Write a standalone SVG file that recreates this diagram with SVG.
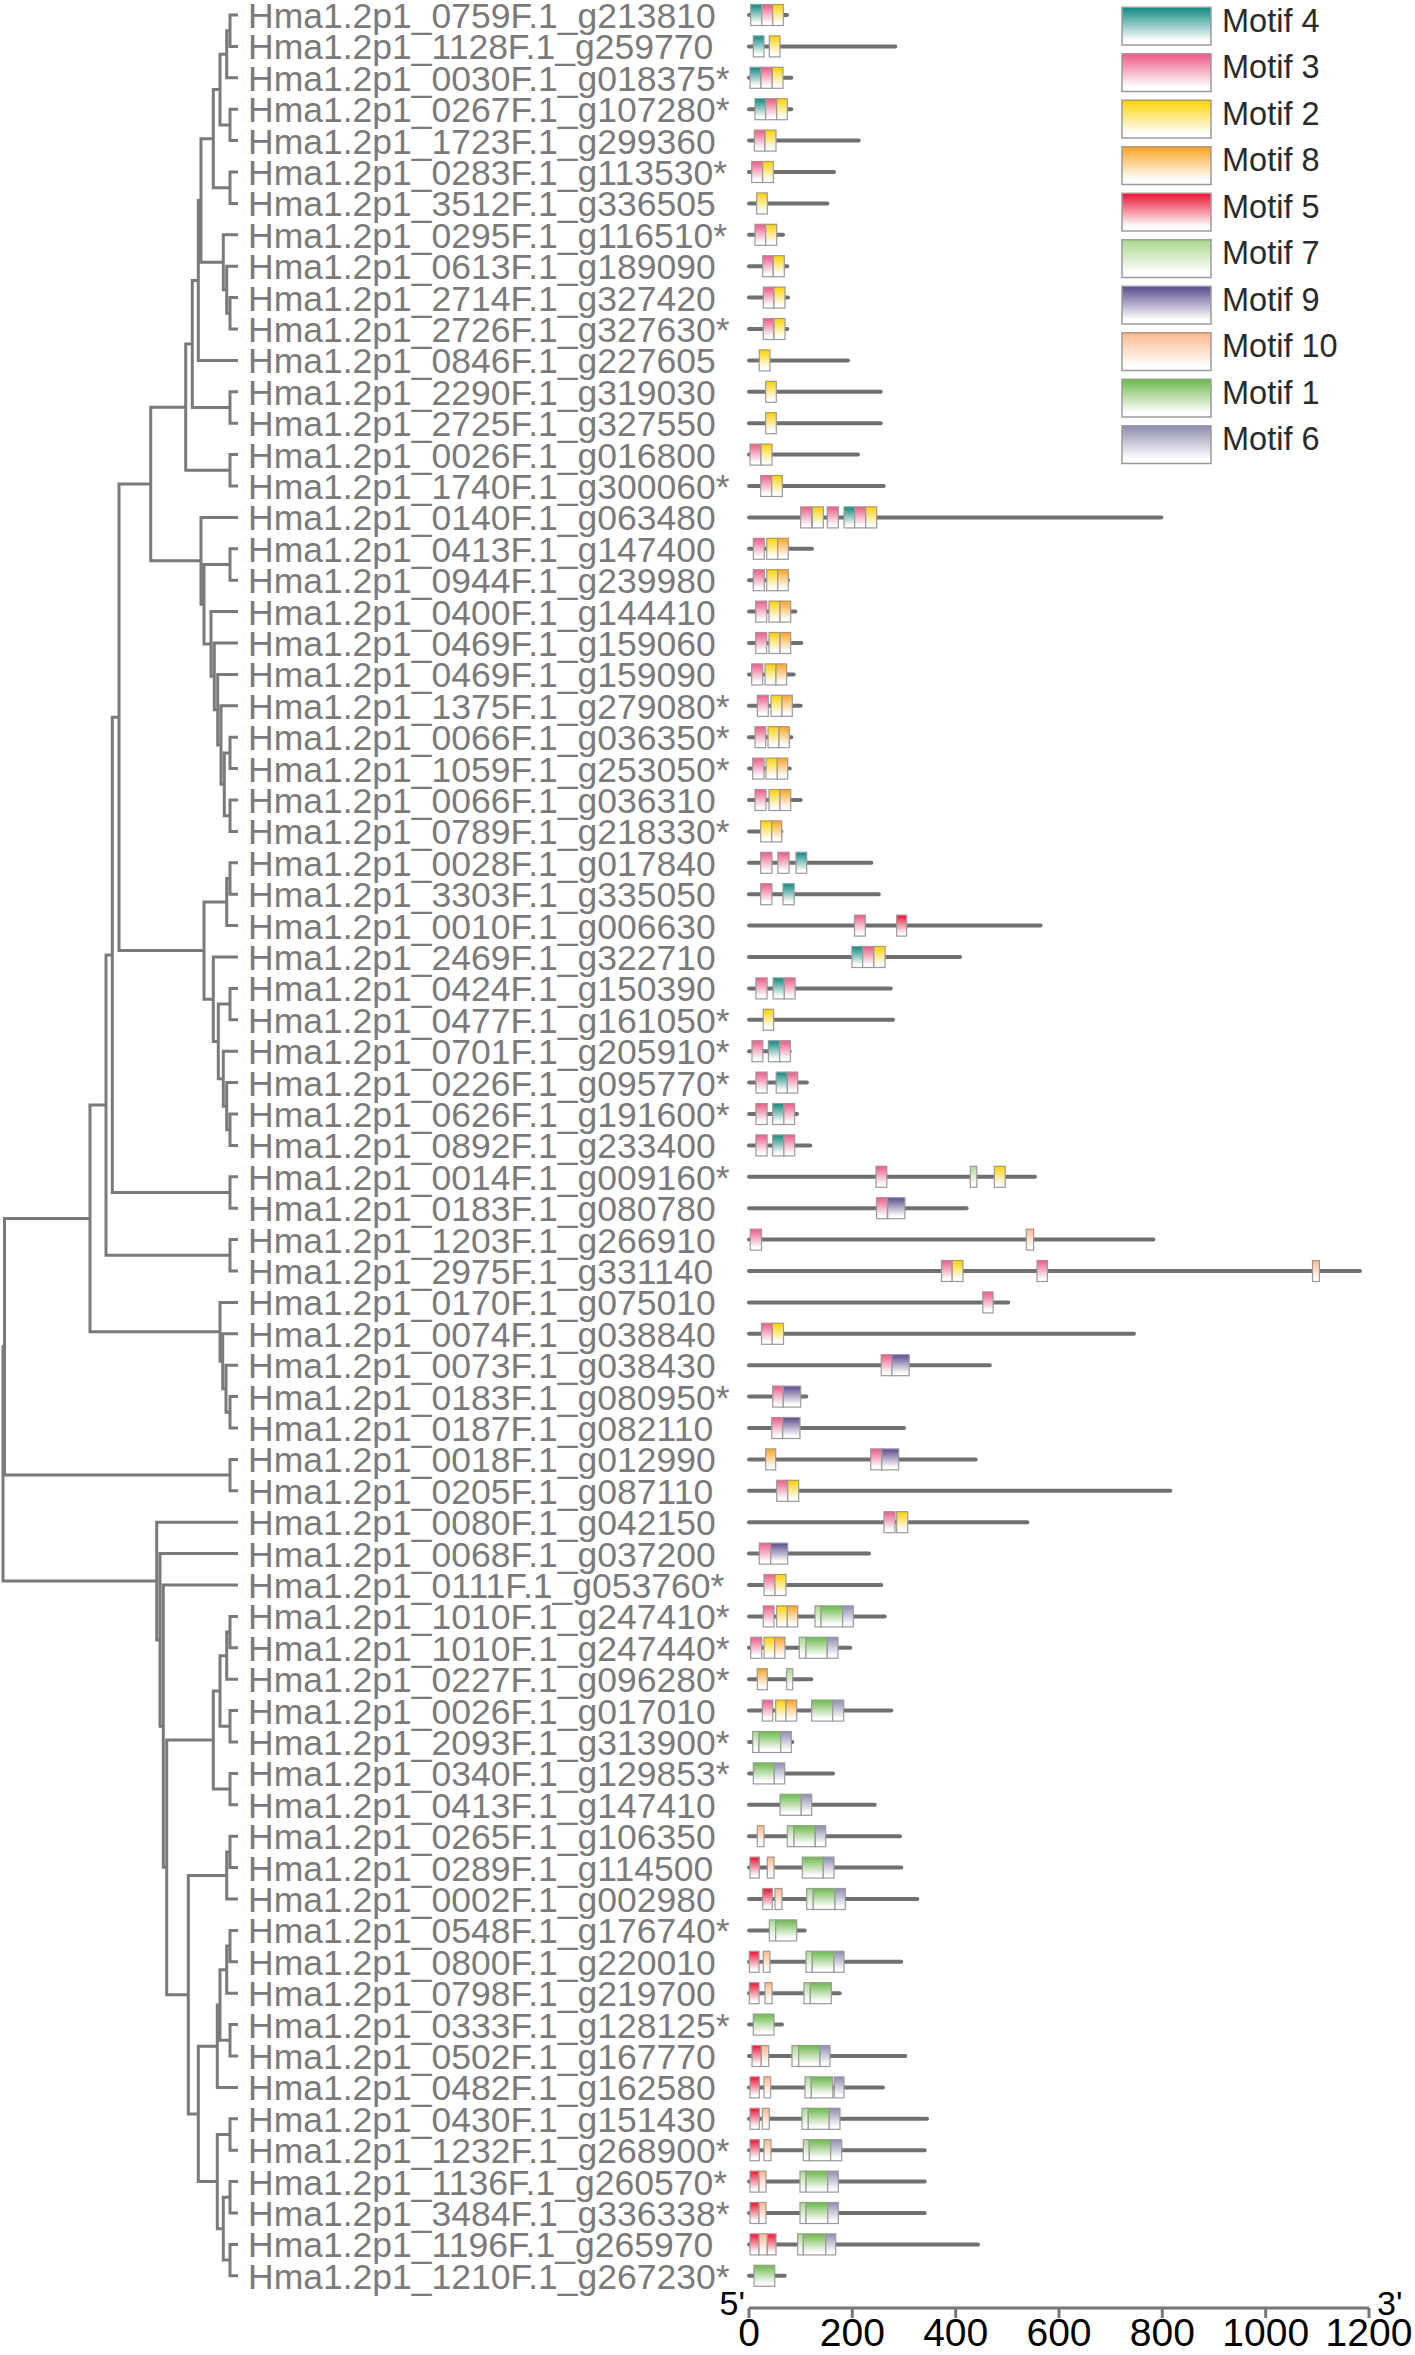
<svg xmlns="http://www.w3.org/2000/svg" width="1415" height="2355" viewBox="0 0 1415 2355">
<style>
.t{font-family:"Liberation Sans",Arial,sans-serif;font-size:35.5px;fill:#7a7a7a}
.tr{fill:none;stroke:#7a7a7a;stroke-width:3}
.ln{fill:none;stroke:#707070;stroke-width:4;stroke-linecap:round}
.gene rect{stroke:#9a9a9a;stroke-width:1.2}
.lgb{stroke:#9a9a9a;stroke-width:1.5}
.lg{font-family:"Liberation Sans",Arial,sans-serif;font-size:32.5px;fill:#2a2a2a}
.ax{fill:none;stroke:#777;stroke-width:3}
.an{font-family:"Liberation Sans",Arial,sans-serif;font-size:39px;fill:#000;text-anchor:middle}
.pr{font-family:"Liberation Sans",Arial,sans-serif;font-size:34px;fill:#000}
.m1{fill:url(#g1)}.m2{fill:url(#g2)}.m3{fill:url(#g3)}.m4{fill:url(#g4)}.m5{fill:url(#g5)}
.m6{fill:url(#g6)}.m7{fill:url(#g7)}.m8{fill:url(#g8)}.m9{fill:url(#g9)}.m10{fill:url(#g10)}
</style>
<defs>
<linearGradient id="g4" x1="0" y1="0" x2="0" y2="1"><stop offset="0" stop-color="#0d8a7e"/><stop offset="0.88" stop-color="#fff"/></linearGradient>
<linearGradient id="g3" x1="0" y1="0" x2="0" y2="1"><stop offset="0" stop-color="#ee5a85"/><stop offset="0.88" stop-color="#fff"/></linearGradient>
<linearGradient id="g2" x1="0" y1="0" x2="0" y2="1"><stop offset="0" stop-color="#ffd200"/><stop offset="0.88" stop-color="#fff"/></linearGradient>
<linearGradient id="g8" x1="0" y1="0" x2="0" y2="1"><stop offset="0" stop-color="#ffa424"/><stop offset="0.88" stop-color="#fff"/></linearGradient>
<linearGradient id="g5" x1="0" y1="0" x2="0" y2="1"><stop offset="0" stop-color="#ee1133"/><stop offset="0.88" stop-color="#fff"/></linearGradient>
<linearGradient id="g7" x1="0" y1="0" x2="0" y2="1"><stop offset="0" stop-color="#a9d98c"/><stop offset="0.88" stop-color="#fff"/></linearGradient>
<linearGradient id="g9" x1="0" y1="0" x2="0" y2="1"><stop offset="0" stop-color="#5c4a8c"/><stop offset="0.88" stop-color="#fff"/></linearGradient>
<linearGradient id="g10" x1="0" y1="0" x2="0" y2="1"><stop offset="0" stop-color="#ffb88a"/><stop offset="0.88" stop-color="#fff"/></linearGradient>
<linearGradient id="g1" x1="0" y1="0" x2="0" y2="1"><stop offset="0" stop-color="#6db94b"/><stop offset="0.88" stop-color="#fff"/></linearGradient>
<linearGradient id="g6" x1="0" y1="0" x2="0" y2="1"><stop offset="0" stop-color="#8e8db0"/><stop offset="0.88" stop-color="#fff"/></linearGradient>
</defs>
<rect width="1415" height="2355" fill="#fff"/>

<g id="connectors" class="tr">
<path d="M238 15H230V46.4H238M230 30.7H226.7V77.8H238M238 109.2H230V140.6H238M226.7 54.25H220V124.9H230M238 172H230V203.4H238M220 89.58H213.3V187.7H230M238 297.6H230V329H238M238 266.2H226.7V313.3H230M238 234.8H223.3V289.75H226.7M213.3 138.64H201V262.28H223.3M201 200.46H198.3V360.4H238M238 391.8H230V423.2H238M198.3 280.43H192.3V407.5H230M238 454.6H230V486H238M192.3 343.97H185.7V470.3H230"/>
<path d="M238 800H230V831.4H238M238 737.2H230V768.6H238M230 752.9H224.3V815.7H230M238 705.8H221V784.3H224.3M238 674.4H217.7V745.05H221M238 643H214.3V709.73H217.7M238 611.6H211V676.36H214.3M238 548.8H230V580.2H238M230 564.5H204V643.98H211M238 517.4H201V604.24H204M185.7 407.13H150.7V560.82H201"/>
<path d="M238 862.8H230V894.2H238M230 878.5H226.7V925.6H238M238 1114H230V1145.4H238M238 1082.6H226.7V1129.7H230M238 1051.2H223.3V1106.15H226.7M238 988.4H230V1019.8H238M230 1004.1H218.3V1078.68H223.3M238 957H213.3V1041.39H218.3M226.7 902.05H204V999.2H213.3M150.7 483.98H119V950.62H204M238 1176.8H230V1208.2H238M119 717.3H112.3V1192.5H230M238 1239.6H230V1271H238M112.3 954.9H106V1255.3H230"/>
<path d="M238 1396.6H230V1428H238M238 1365.2H226V1412.3H230M238 1333.8H222.7V1388.75H226M238 1302.4H220V1361.28H222.7M106 1105.1H90V1331.84H220M238 1459.4H230V1490.8H238M90 1218.47H4.5V1475.1H230"/>
<path d="M238 1616.4H230V1647.8H238M230 1632.1H226.7V1679.2H238M238 1710.6H230V1742H238M226.7 1655.65H220V1726.3H230M238 1773.4H230V1804.8H238M220 1690.98H213.3V1789.1H230M238 1836.2H230V1867.6H238M230 1851.9H226.7V1899H238M238 1930.4H230V1961.8H238M230 1946.1H226.7V1993.2H238M238 2024.6H230V2056H238M226.7 1969.65H220V2040.3H230M220 2004.98H217.3V2087.4H238M238 2118.8H230V2150.2H238M238 2181.6H230V2213H238M238 2244.4H230V2275.8H238M230 2197.3H223.3V2260.1H230M230 2134.5H217.3V2228.7H223.3M217.3 2046.19H198.3V2181.6H217.3M226.7 1875.45H188.3V2113.9H198.3M213.3 1740.04H166.7V1994.68H188.3M238 1585H163.3V1867.36H166.7M238 1553.6H160V1726.18H163.3M238 1522.2H156.7V1639.89H160M4.5 1346.8H3V1581.05H156.7"/>
</g>

<g id="r1" class="gene" transform="translate(0,15)"><text class="t" x="248" y="13">Hma1.2p1_0759F.1_g213810</text><path class="ln" d="M749 0H787"/><rect class="m4" x="750.7" y="-10.5" width="11" height="21"/><rect class="m3" x="761.7" y="-10.5" width="11" height="21"/><rect class="m2" x="772.7" y="-10.5" width="10.6" height="21"/></g>
<g id="r2" class="gene" transform="translate(0,46.4)"><text class="t" x="248" y="13">Hma1.2p1_1128F.1_g259770</text><path class="ln" d="M749 0H895.3"/><rect class="m4" x="753.3" y="-10.5" width="10.7" height="21"/><rect class="m2" x="769.3" y="-10.5" width="10.7" height="21"/></g>
<g id="r3" class="gene" transform="translate(0,77.8)"><text class="t" x="248" y="13">Hma1.2p1_0030F.1_g018375*</text><path class="ln" d="M749 0H791.3"/><rect class="m4" x="750" y="-10.5" width="11" height="21"/><rect class="m3" x="761" y="-10.5" width="11.3" height="21"/><rect class="m2" x="772.3" y="-10.5" width="10.7" height="21"/></g>
<g id="r4" class="gene" transform="translate(0,109.2)"><text class="t" x="248" y="13">Hma1.2p1_0267F.1_g107280*</text><path class="ln" d="M749 0H791.3"/><rect class="m4" x="755" y="-10.5" width="10.7" height="21"/><rect class="m3" x="765.7" y="-10.5" width="11" height="21"/><rect class="m2" x="776.7" y="-10.5" width="10.6" height="21"/></g>
<g id="r5" class="gene" transform="translate(0,140.6)"><text class="t" x="248" y="13">Hma1.2p1_1723F.1_g299360</text><path class="ln" d="M749 0H858.7"/><rect class="m3" x="754.3" y="-10.5" width="10.7" height="21"/><rect class="m2" x="765" y="-10.5" width="11" height="21"/></g>
<g id="r6" class="gene" transform="translate(0,172)"><text class="t" x="248" y="13">Hma1.2p1_0283F.1_g113530*</text><path class="ln" d="M749 0H834"/><rect class="m3" x="751.7" y="-10.5" width="11" height="21"/><rect class="m2" x="762.7" y="-10.5" width="10.6" height="21"/></g>
<g id="r7" class="gene" transform="translate(0,203.4)"><text class="t" x="248" y="13">Hma1.2p1_3512F.1_g336505</text><path class="ln" d="M749 0H827.3"/><rect class="m2" x="756.7" y="-10.5" width="10.6" height="21"/></g>
<g id="r8" class="gene" transform="translate(0,234.8)"><text class="t" x="248" y="13">Hma1.2p1_0295F.1_g116510*</text><path class="ln" d="M749 0H783"/><rect class="m3" x="755" y="-10.5" width="10.7" height="21"/><rect class="m2" x="765.7" y="-10.5" width="11" height="21"/></g>
<g id="r9" class="gene" transform="translate(0,266.2)"><text class="t" x="248" y="13">Hma1.2p1_0613F.1_g189090</text><path class="ln" d="M749 0H787.3"/><rect class="m3" x="762.7" y="-10.5" width="10.6" height="21"/><rect class="m2" x="773.3" y="-10.5" width="11" height="21"/></g>
<g id="r10" class="gene" transform="translate(0,297.6)"><text class="t" x="248" y="13">Hma1.2p1_2714F.1_g327420</text><path class="ln" d="M749 0H788"/><rect class="m3" x="763.3" y="-10.5" width="10.7" height="21"/><rect class="m2" x="774" y="-10.5" width="11" height="21"/></g>
<g id="r11" class="gene" transform="translate(0,329)"><text class="t" x="248" y="13">Hma1.2p1_2726F.1_g327630*</text><path class="ln" d="M749 0H787.3"/><rect class="m3" x="763.3" y="-10.5" width="10.7" height="21"/><rect class="m2" x="774" y="-10.5" width="11" height="21"/></g>
<g id="r12" class="gene" transform="translate(0,360.4)"><text class="t" x="248" y="13">Hma1.2p1_0846F.1_g227605</text><path class="ln" d="M749 0H848"/><rect class="m2" x="759.3" y="-10.5" width="10.7" height="21"/></g>
<g id="r13" class="gene" transform="translate(0,391.8)"><text class="t" x="248" y="13">Hma1.2p1_2290F.1_g319030</text><path class="ln" d="M749 0H880.7"/><rect class="m2" x="765.7" y="-10.5" width="10.6" height="21"/></g>
<g id="r14" class="gene" transform="translate(0,423.2)"><text class="t" x="248" y="13">Hma1.2p1_2725F.1_g327550</text><path class="ln" d="M749 0H880.7"/><rect class="m2" x="765.7" y="-10.5" width="10.6" height="21"/></g>
<g id="r15" class="gene" transform="translate(0,454.6)"><text class="t" x="248" y="13">Hma1.2p1_0026F.1_g016800</text><path class="ln" d="M749 0H858"/><rect class="m3" x="750" y="-10.5" width="11" height="21"/><rect class="m2" x="761" y="-10.5" width="11" height="21"/></g>
<g id="r16" class="gene" transform="translate(0,486)"><text class="t" x="248" y="13">Hma1.2p1_1740F.1_g300060*</text><path class="ln" d="M749 0H883.7"/><rect class="m3" x="760.7" y="-10.5" width="11" height="21"/><rect class="m2" x="771.7" y="-10.5" width="10.6" height="21"/></g>
<g id="r17" class="gene" transform="translate(0,517.4)"><text class="t" x="248" y="13">Hma1.2p1_0140F.1_g063480</text><path class="ln" d="M749 0H1161.3"/><rect class="m3" x="800.7" y="-10.5" width="11" height="21"/><rect class="m2" x="812.3" y="-10.5" width="11" height="21"/><rect class="m3" x="827.3" y="-10.5" width="11" height="21"/><rect class="m4" x="844" y="-10.5" width="10.7" height="21"/><rect class="m3" x="854.7" y="-10.5" width="11" height="21"/><rect class="m2" x="865.7" y="-10.5" width="11" height="21"/></g>
<g id="r18" class="gene" transform="translate(0,548.8)"><text class="t" x="248" y="13">Hma1.2p1_0413F.1_g147400</text><path class="ln" d="M749 0H812"/><rect class="m3" x="753.3" y="-10.5" width="11" height="21"/><rect class="m2" x="766.7" y="-10.5" width="11" height="21"/><rect class="m8" x="777.7" y="-10.5" width="10.6" height="21"/></g>
<g id="r19" class="gene" transform="translate(0,580.2)"><text class="t" x="248" y="13">Hma1.2p1_0944F.1_g239980</text><path class="ln" d="M749 0H788"/><rect class="m3" x="753.3" y="-10.5" width="11" height="21"/><rect class="m2" x="766.7" y="-10.5" width="11" height="21"/><rect class="m8" x="777.7" y="-10.5" width="10.6" height="21"/></g>
<g id="r20" class="gene" transform="translate(0,611.6)"><text class="t" x="248" y="13">Hma1.2p1_0400F.1_g144410</text><path class="ln" d="M749 0H795.3"/><rect class="m3" x="755.7" y="-10.5" width="11" height="21"/><rect class="m2" x="769" y="-10.5" width="11" height="21"/><rect class="m8" x="780" y="-10.5" width="10.7" height="21"/></g>
<g id="r21" class="gene" transform="translate(0,643)"><text class="t" x="248" y="13">Hma1.2p1_0469F.1_g159060</text><path class="ln" d="M749 0H801.3"/><rect class="m3" x="755.7" y="-10.5" width="11" height="21"/><rect class="m2" x="769" y="-10.5" width="11" height="21"/><rect class="m8" x="780" y="-10.5" width="10.7" height="21"/></g>
<g id="r22" class="gene" transform="translate(0,674.4)"><text class="t" x="248" y="13">Hma1.2p1_0469F.1_g159090</text><path class="ln" d="M749 0H793.7"/><rect class="m3" x="751.7" y="-10.5" width="11" height="21"/><rect class="m2" x="765" y="-10.5" width="11" height="21"/><rect class="m8" x="776" y="-10.5" width="10.7" height="21"/></g>
<g id="r23" class="gene" transform="translate(0,705.8)"><text class="t" x="248" y="13">Hma1.2p1_1375F.1_g279080*</text><path class="ln" d="M749 0H800.7"/><rect class="m3" x="757.3" y="-10.5" width="11" height="21"/><rect class="m2" x="771" y="-10.5" width="11" height="21"/><rect class="m8" x="782" y="-10.5" width="10.3" height="21"/></g>
<g id="r24" class="gene" transform="translate(0,737.2)"><text class="t" x="248" y="13">Hma1.2p1_0066F.1_g036350*</text><path class="ln" d="M749 0H791.3"/><rect class="m3" x="755" y="-10.5" width="10.7" height="21"/><rect class="m2" x="768" y="-10.5" width="11" height="21"/><rect class="m8" x="779" y="-10.5" width="10.3" height="21"/></g>
<g id="r25" class="gene" transform="translate(0,768.6)"><text class="t" x="248" y="13">Hma1.2p1_1059F.1_g253050*</text><path class="ln" d="M749 0H789.7"/><rect class="m3" x="752.7" y="-10.5" width="11.3" height="21"/><rect class="m2" x="766" y="-10.5" width="11.3" height="21"/><rect class="m8" x="777.3" y="-10.5" width="10.4" height="21"/></g>
<g id="r26" class="gene" transform="translate(0,800)"><text class="t" x="248" y="13">Hma1.2p1_0066F.1_g036310</text><path class="ln" d="M749 0H800.7"/><rect class="m3" x="755" y="-10.5" width="11" height="21"/><rect class="m2" x="769" y="-10.5" width="11" height="21"/><rect class="m8" x="780" y="-10.5" width="10.7" height="21"/></g>
<g id="r27" class="gene" transform="translate(0,831.4)"><text class="t" x="248" y="13">Hma1.2p1_0789F.1_g218330*</text><path class="ln" d="M749 0H781.3"/><rect class="m2" x="760.7" y="-10.5" width="11" height="21"/><rect class="m8" x="771.7" y="-10.5" width="10" height="21"/></g>
<g id="r28" class="gene" transform="translate(0,862.8)"><text class="t" x="248" y="13">Hma1.2p1_0028F.1_g017840</text><path class="ln" d="M749 0H871.4"/><rect class="m3" x="760.7" y="-10.5" width="11.2" height="21"/><rect class="m3" x="777.9" y="-10.5" width="11.2" height="21"/><rect class="m4" x="796" y="-10.5" width="10.7" height="21"/></g>
<g id="r29" class="gene" transform="translate(0,894.2)"><text class="t" x="248" y="13">Hma1.2p1_3303F.1_g335050</text><path class="ln" d="M749 0H878.8"/><rect class="m3" x="760.7" y="-10.5" width="11.2" height="21"/><rect class="m4" x="783" y="-10.5" width="11.2" height="21"/></g>
<g id="r30" class="gene" transform="translate(0,925.6)"><text class="t" x="248" y="13">Hma1.2p1_0010F.1_g006630</text><path class="ln" d="M749 0H1040.6"/><rect class="m3" x="854.5" y="-10.5" width="10.8" height="21"/><rect class="m5" x="896.7" y="-10.5" width="9.9" height="21"/></g>
<g id="r31" class="gene" transform="translate(0,957)"><text class="t" x="248" y="13">Hma1.2p1_2469F.1_g322710</text><path class="ln" d="M749 0H960.1"/><rect class="m4" x="851.9" y="-10.5" width="10.8" height="21"/><rect class="m3" x="862.7" y="-10.5" width="11.2" height="21"/><rect class="m2" x="873.9" y="-10.5" width="11.2" height="21"/></g>
<g id="r32" class="gene" transform="translate(0,988.4)"><text class="t" x="248" y="13">Hma1.2p1_0424F.1_g150390</text><path class="ln" d="M749 0H890.8"/><rect class="m3" x="755.9" y="-10.5" width="11.2" height="21"/><rect class="m4" x="773.1" y="-10.5" width="11.2" height="21"/><rect class="m3" x="784.3" y="-10.5" width="10.8" height="21"/></g>
<g id="r33" class="gene" transform="translate(0,1019.8)"><text class="t" x="248" y="13">Hma1.2p1_0477F.1_g161050*</text><path class="ln" d="M749 0H893"/><rect class="m2" x="763.2" y="-10.5" width="10.4" height="21"/></g>
<g id="r34" class="gene" transform="translate(0,1051.2)"><text class="t" x="248" y="13">Hma1.2p1_0701F.1_g205910*</text><path class="ln" d="M749 0H789.7"/><rect class="m3" x="752" y="-10.5" width="10.8" height="21"/><rect class="m4" x="768.4" y="-10.5" width="11.2" height="21"/><rect class="m3" x="779.6" y="-10.5" width="10.8" height="21"/></g>
<g id="r35" class="gene" transform="translate(0,1082.6)"><text class="t" x="248" y="13">Hma1.2p1_0226F.1_g095770*</text><path class="ln" d="M749 0H806.9"/><rect class="m3" x="755.9" y="-10.5" width="11.2" height="21"/><rect class="m4" x="776.2" y="-10.5" width="11.2" height="21"/><rect class="m3" x="787.4" y="-10.5" width="10.3" height="21"/></g>
<g id="r36" class="gene" transform="translate(0,1114)"><text class="t" x="248" y="13">Hma1.2p1_0626F.1_g191600*</text><path class="ln" d="M749 0H797"/><rect class="m3" x="755.9" y="-10.5" width="11.2" height="21"/><rect class="m4" x="772.7" y="-10.5" width="11.2" height="21"/><rect class="m3" x="783.9" y="-10.5" width="10.8" height="21"/></g>
<g id="r37" class="gene" transform="translate(0,1145.4)"><text class="t" x="248" y="13">Hma1.2p1_0892F.1_g233400</text><path class="ln" d="M749 0H810.3"/><rect class="m3" x="755.9" y="-10.5" width="11.2" height="21"/><rect class="m4" x="772.7" y="-10.5" width="11.2" height="21"/><rect class="m3" x="783.9" y="-10.5" width="10.8" height="21"/></g>
<g id="r38" class="gene" transform="translate(0,1176.8)"><text class="t" x="248" y="13">Hma1.2p1_0014F.1_g009160*</text><path class="ln" d="M749 0H1035"/><rect class="m3" x="876" y="-10.5" width="10.8" height="21"/><rect class="m7" x="970.3" y="-10.5" width="6.5" height="21"/><rect class="m2" x="994.4" y="-10.5" width="10.8" height="21"/></g>
<g id="r39" class="gene" transform="translate(0,1208.2)"><text class="t" x="248" y="13">Hma1.2p1_0183F.1_g080780</text><path class="ln" d="M749 0H966.6"/><rect class="m3" x="876.5" y="-10.5" width="10.7" height="21"/><rect class="m9" x="887.7" y="-10.5" width="17.2" height="21"/></g>
<g id="r40" class="gene" transform="translate(0,1239.6)"><text class="t" x="248" y="13">Hma1.2p1_1203F.1_g266910</text><path class="ln" d="M749 0H1153.4"/><rect class="m3" x="750.3" y="-10.5" width="11.2" height="21"/><rect class="m10" x="1026.3" y="-10.5" width="7.3" height="21"/></g>
<g id="r41" class="gene" transform="translate(0,1271)"><text class="t" x="248" y="13">Hma1.2p1_2975F.1_g331140</text><path class="ln" d="M749 0H1360"/><rect class="m3" x="941.5" y="-10.5" width="10.7" height="21"/><rect class="m2" x="952.2" y="-10.5" width="10.8" height="21"/><rect class="m3" x="1037" y="-10.5" width="10.4" height="21"/><rect class="m10" x="1312.5" y="-10.5" width="6.9" height="21"/></g>
<g id="r42" class="gene" transform="translate(0,1302.4)"><text class="t" x="248" y="13">Hma1.2p1_0170F.1_g075010</text><path class="ln" d="M749 0H1008.3"/><rect class="m3" x="982.8" y="-10.5" width="10.3" height="21"/></g>
<g id="r43" class="gene" transform="translate(0,1333.8)"><text class="t" x="248" y="13">Hma1.2p1_0074F.1_g038840</text><path class="ln" d="M749 0H1134"/><rect class="m3" x="761.5" y="-10.5" width="10.8" height="21"/><rect class="m2" x="772.3" y="-10.5" width="11.2" height="21"/></g>
<g id="r44" class="gene" transform="translate(0,1365.2)"><text class="t" x="248" y="13">Hma1.2p1_0073F.1_g038430</text><path class="ln" d="M749 0H989.8"/><rect class="m3" x="881.2" y="-10.5" width="10.8" height="21"/><rect class="m9" x="892" y="-10.5" width="17.2" height="21"/></g>
<g id="r45" class="gene" transform="translate(0,1396.6)"><text class="t" x="248" y="13">Hma1.2p1_0183F.1_g080950*</text><path class="ln" d="M749 0H806.3"/><rect class="m3" x="772.7" y="-10.5" width="10.6" height="21"/><rect class="m9" x="783.3" y="-10.5" width="17.4" height="21"/></g>
<g id="r46" class="gene" transform="translate(0,1428)"><text class="t" x="248" y="13">Hma1.2p1_0187F.1_g082110</text><path class="ln" d="M749 0H904"/><rect class="m3" x="771.7" y="-10.5" width="11" height="21"/><rect class="m9" x="782.7" y="-10.5" width="17.3" height="21"/></g>
<g id="r47" class="gene" transform="translate(0,1459.4)"><text class="t" x="248" y="13">Hma1.2p1_0018F.1_g012990</text><path class="ln" d="M749 0H975.7"/><rect class="m8" x="765.7" y="-10.5" width="10" height="21"/><rect class="m3" x="870.7" y="-10.5" width="11" height="21"/><rect class="m9" x="881.7" y="-10.5" width="17" height="21"/></g>
<g id="r48" class="gene" transform="translate(0,1490.8)"><text class="t" x="248" y="13">Hma1.2p1_0205F.1_g087110</text><path class="ln" d="M749 0H1170.3"/><rect class="m3" x="776.7" y="-10.5" width="11" height="21"/><rect class="m2" x="787.7" y="-10.5" width="11" height="21"/></g>
<g id="r49" class="gene" transform="translate(0,1522.2)"><text class="t" x="248" y="13">Hma1.2p1_0080F.1_g042150</text><path class="ln" d="M749 0H1027.3"/><rect class="m3" x="884" y="-10.5" width="11" height="21"/><rect class="m2" x="896.7" y="-10.5" width="11" height="21"/></g>
<g id="r50" class="gene" transform="translate(0,1553.6)"><text class="t" x="248" y="13">Hma1.2p1_0068F.1_g037200</text><path class="ln" d="M749 0H869"/><rect class="m3" x="759.3" y="-10.5" width="11.4" height="21"/><rect class="m9" x="770.7" y="-10.5" width="17" height="21"/></g>
<g id="r51" class="gene" transform="translate(0,1585)"><text class="t" x="248" y="13">Hma1.2p1_0111F.1_g053760*</text><path class="ln" d="M749 0H881.3"/><rect class="m3" x="764" y="-10.5" width="11" height="21"/><rect class="m2" x="775" y="-10.5" width="11" height="21"/></g>
<g id="r52" class="gene" transform="translate(0,1616.4)"><text class="t" x="248" y="13">Hma1.2p1_1010F.1_g247410*</text><path class="ln" d="M749 0H884.7"/><rect class="m3" x="763.3" y="-10.5" width="10.7" height="21"/><rect class="m2" x="776.7" y="-10.5" width="10.6" height="21"/><rect class="m8" x="787.3" y="-10.5" width="10.4" height="21"/><rect class="m7" x="815" y="-10.5" width="6" height="21"/><rect class="m1" x="821" y="-10.5" width="21.7" height="21"/><rect class="m6" x="842.7" y="-10.5" width="10.6" height="21"/></g>
<g id="r53" class="gene" transform="translate(0,1647.8)"><text class="t" x="248" y="13">Hma1.2p1_1010F.1_g247440*</text><path class="ln" d="M749 0H850.3"/><rect class="m3" x="750.7" y="-10.5" width="11" height="21"/><rect class="m2" x="764" y="-10.5" width="10.7" height="21"/><rect class="m8" x="774.7" y="-10.5" width="10.3" height="21"/><rect class="m7" x="799.3" y="-10.5" width="6.7" height="21"/><rect class="m1" x="806" y="-10.5" width="21.3" height="21"/><rect class="m6" x="827.3" y="-10.5" width="10.7" height="21"/></g>
<g id="r54" class="gene" transform="translate(0,1679.2)"><text class="t" x="248" y="13">Hma1.2p1_0227F.1_g096280*</text><path class="ln" d="M749 0H811.3"/><rect class="m8" x="757.3" y="-10.5" width="10" height="21"/><rect class="m7" x="786.7" y="-10.5" width="6" height="21"/></g>
<g id="r55" class="gene" transform="translate(0,1710.6)"><text class="t" x="248" y="13">Hma1.2p1_0026F.1_g017010</text><path class="ln" d="M749 0H891.3"/><rect class="m3" x="762.3" y="-10.5" width="10.4" height="21"/><rect class="m2" x="775.7" y="-10.5" width="10.3" height="21"/><rect class="m8" x="786" y="-10.5" width="10.7" height="21"/><rect class="m1" x="811.7" y="-10.5" width="21" height="21"/><rect class="m6" x="832.7" y="-10.5" width="11" height="21"/></g>
<g id="r56" class="gene" transform="translate(0,1742)"><text class="t" x="248" y="13">Hma1.2p1_2093F.1_g313900*</text><path class="ln" d="M749 0H792.3"/><rect class="m7" x="752.7" y="-10.5" width="6.3" height="21"/><rect class="m1" x="759" y="-10.5" width="21.7" height="21"/><rect class="m6" x="780.7" y="-10.5" width="10.6" height="21"/></g>
<g id="r57" class="gene" transform="translate(0,1773.4)"><text class="t" x="248" y="13">Hma1.2p1_0340F.1_g129853*</text><path class="ln" d="M749 0H833"/><rect class="m1" x="753.3" y="-10.5" width="21" height="21"/><rect class="m6" x="774.3" y="-10.5" width="10.4" height="21"/></g>
<g id="r58" class="gene" transform="translate(0,1804.8)"><text class="t" x="248" y="13">Hma1.2p1_0413F.1_g147410</text><path class="ln" d="M749 0H874.7"/><rect class="m1" x="780" y="-10.5" width="21.3" height="21"/><rect class="m6" x="801.3" y="-10.5" width="10.4" height="21"/></g>
<g id="r59" class="gene" transform="translate(0,1836.2)"><text class="t" x="248" y="13">Hma1.2p1_0265F.1_g106350</text><path class="ln" d="M749 0H900"/><rect class="m10" x="757.3" y="-10.5" width="6.7" height="21"/><rect class="m7" x="787.3" y="-10.5" width="6.7" height="21"/><rect class="m1" x="794" y="-10.5" width="21.3" height="21"/><rect class="m6" x="815.3" y="-10.5" width="10.4" height="21"/></g>
<g id="r60" class="gene" transform="translate(0,1867.6)"><text class="t" x="248" y="13">Hma1.2p1_0289F.1_g114500</text><path class="ln" d="M749 0H901.3"/><rect class="m5" x="750" y="-10.5" width="9.3" height="21"/><rect class="m10" x="767.3" y="-10.5" width="6.7" height="21"/><rect class="m1" x="802.3" y="-10.5" width="21" height="21"/><rect class="m6" x="823.3" y="-10.5" width="10.7" height="21"/></g>
<g id="r61" class="gene" transform="translate(0,1899)"><text class="t" x="248" y="13">Hma1.2p1_0002F.1_g002980</text><path class="ln" d="M749 0H917.3"/><rect class="m5" x="762.7" y="-10.5" width="9.6" height="21"/><rect class="m10" x="775" y="-10.5" width="7" height="21"/><rect class="m7" x="806.7" y="-10.5" width="6.6" height="21"/><rect class="m1" x="813.3" y="-10.5" width="21.7" height="21"/><rect class="m6" x="835" y="-10.5" width="10.3" height="21"/></g>
<g id="r62" class="gene" transform="translate(0,1930.4)"><text class="t" x="248" y="13">Hma1.2p1_0548F.1_g176740*</text><path class="ln" d="M749 0H804.7"/><rect class="m7" x="769.3" y="-10.5" width="6.4" height="21"/><rect class="m1" x="775.7" y="-10.5" width="21" height="21"/></g>
<g id="r63" class="gene" transform="translate(0,1961.8)"><text class="t" x="248" y="13">Hma1.2p1_0800F.1_g220010</text><path class="ln" d="M749 0H901.3"/><rect class="m5" x="749.3" y="-10.5" width="9.7" height="21"/><rect class="m10" x="763.3" y="-10.5" width="6.7" height="21"/><rect class="m7" x="806" y="-10.5" width="6.3" height="21"/><rect class="m1" x="812.3" y="-10.5" width="21.7" height="21"/><rect class="m6" x="834" y="-10.5" width="10" height="21"/></g>
<g id="r64" class="gene" transform="translate(0,1993.2)"><text class="t" x="248" y="13">Hma1.2p1_0798F.1_g219700</text><path class="ln" d="M749 0H839.7"/><rect class="m5" x="749.3" y="-10.5" width="9.7" height="21"/><rect class="m10" x="765" y="-10.5" width="7" height="21"/><rect class="m7" x="804" y="-10.5" width="6.3" height="21"/><rect class="m1" x="810.3" y="-10.5" width="21" height="21"/></g>
<g id="r65" class="gene" transform="translate(0,2024.6)"><text class="t" x="248" y="13">Hma1.2p1_0333F.1_g128125*</text><path class="ln" d="M749 0H782"/><rect class="m1" x="753.3" y="-10.5" width="20.7" height="21"/></g>
<g id="r66" class="gene" transform="translate(0,2056)"><text class="t" x="248" y="13">Hma1.2p1_0502F.1_g167770</text><path class="ln" d="M749 0H905.3"/><rect class="m5" x="752" y="-10.5" width="9.3" height="21"/><rect class="m10" x="761.3" y="-10.5" width="7.4" height="21"/><rect class="m7" x="792" y="-10.5" width="6.7" height="21"/><rect class="m1" x="798.7" y="-10.5" width="21.3" height="21"/><rect class="m6" x="820" y="-10.5" width="10" height="21"/></g>
<g id="r67" class="gene" transform="translate(0,2087.4)"><text class="t" x="248" y="13">Hma1.2p1_0482F.1_g162580</text><path class="ln" d="M749 0H883"/><rect class="m5" x="750" y="-10.5" width="9.3" height="21"/><rect class="m10" x="764" y="-10.5" width="6.7" height="21"/><rect class="m7" x="805" y="-10.5" width="6.3" height="21"/><rect class="m1" x="811.3" y="-10.5" width="21.4" height="21"/><rect class="m6" x="834.3" y="-10.5" width="9.7" height="21"/></g>
<g id="r68" class="gene" transform="translate(0,2118.8)"><text class="t" x="248" y="13">Hma1.2p1_0430F.1_g151430</text><path class="ln" d="M749 0H927"/><rect class="m5" x="750" y="-10.5" width="9.3" height="21"/><rect class="m10" x="762.3" y="-10.5" width="7" height="21"/><rect class="m7" x="802" y="-10.5" width="6.3" height="21"/><rect class="m1" x="808.3" y="-10.5" width="21" height="21"/><rect class="m6" x="829.3" y="-10.5" width="10.7" height="21"/></g>
<g id="r69" class="gene" transform="translate(0,2150.2)"><text class="t" x="248" y="13">Hma1.2p1_1232F.1_g268900*</text><path class="ln" d="M749 0H924.7"/><rect class="m5" x="750" y="-10.5" width="9.3" height="21"/><rect class="m10" x="764" y="-10.5" width="7" height="21"/><rect class="m7" x="803.3" y="-10.5" width="6" height="21"/><rect class="m1" x="809.3" y="-10.5" width="21.4" height="21"/><rect class="m6" x="830.7" y="-10.5" width="11" height="21"/></g>
<g id="r70" class="gene" transform="translate(0,2181.6)"><text class="t" x="248" y="13">Hma1.2p1_1136F.1_g260570*</text><path class="ln" d="M749 0H924.7"/><rect class="m5" x="750" y="-10.5" width="9" height="21"/><rect class="m10" x="759" y="-10.5" width="7" height="21"/><rect class="m7" x="800" y="-10.5" width="6" height="21"/><rect class="m1" x="806" y="-10.5" width="21.7" height="21"/><rect class="m6" x="827.7" y="-10.5" width="10.6" height="21"/></g>
<g id="r71" class="gene" transform="translate(0,2213)"><text class="t" x="248" y="13">Hma1.2p1_3484F.1_g336338*</text><path class="ln" d="M749 0H924.7"/><rect class="m5" x="750" y="-10.5" width="9" height="21"/><rect class="m10" x="759" y="-10.5" width="7" height="21"/><rect class="m7" x="800" y="-10.5" width="6" height="21"/><rect class="m1" x="806" y="-10.5" width="21.7" height="21"/><rect class="m6" x="827.7" y="-10.5" width="10.6" height="21"/></g>
<g id="r72" class="gene" transform="translate(0,2244.4)"><text class="t" x="248" y="13">Hma1.2p1_1196F.1_g265970</text><path class="ln" d="M749 0H978"/><rect class="m5" x="750" y="-10.5" width="9" height="21"/><rect class="m10" x="759" y="-10.5" width="8.3" height="21"/><rect class="m5" x="767.3" y="-10.5" width="8.7" height="21"/><rect class="m7" x="797.7" y="-10.5" width="5.6" height="21"/><rect class="m1" x="803.3" y="-10.5" width="22.4" height="21"/><rect class="m6" x="825.7" y="-10.5" width="10" height="21"/></g>
<g id="r73" class="gene" transform="translate(0,2275.8)"><text class="t" x="248" y="13">Hma1.2p1_1210F.1_g267230*</text><path class="ln" d="M749 0H784.7"/><rect class="m1" x="754" y="-10.5" width="20.7" height="21"/></g>

<g id="legend">
<rect class="lgb m4" x="1122" y="7.3" width="89" height="37.7"/><text class="lg" x="1222" y="31.8">Motif 4</text>
<rect class="lgb m3" x="1122" y="53.8" width="89" height="37.7"/><text class="lg" x="1222" y="78.3">Motif 3</text>
<rect class="lgb m2" x="1122" y="100.3" width="89" height="37.7"/><text class="lg" x="1222" y="124.8">Motif 2</text>
<rect class="lgb m8" x="1122" y="146.8" width="89" height="37.7"/><text class="lg" x="1222" y="171.3">Motif 8</text>
<rect class="lgb m5" x="1122" y="193.3" width="89" height="37.7"/><text class="lg" x="1222" y="217.8">Motif 5</text>
<rect class="lgb m7" x="1122" y="239.8" width="89" height="37.7"/><text class="lg" x="1222" y="264.3">Motif 7</text>
<rect class="lgb m9" x="1122" y="286.3" width="89" height="37.7"/><text class="lg" x="1222" y="310.8">Motif 9</text>
<rect class="lgb m10" x="1122" y="332.8" width="89" height="37.7"/><text class="lg" x="1222" y="357.3">Motif 10</text>
<rect class="lgb m1" x="1122" y="379.3" width="89" height="37.7"/><text class="lg" x="1222" y="403.8">Motif 1</text>
<rect class="lgb m6" x="1122" y="425.8" width="89" height="37.7"/><text class="lg" x="1222" y="450.3">Motif 6</text>
</g>

<g id="axis">
<path class="ax" d="M749 2308H1369M749 2308V2318M852.3 2308V2318M955.7 2308V2318M1059 2308V2318M1162.3 2308V2318M1265.7 2308V2318M1369 2308V2318"/>
<text class="pr" x="745" y="2315" text-anchor="end">5'</text>
<text class="pr" x="1377" y="2315">3'</text>
<text class="an" x="749" y="2346">0</text>
<text class="an" x="852.3" y="2346">200</text>
<text class="an" x="955.7" y="2346">400</text>
<text class="an" x="1059" y="2346">600</text>
<text class="an" x="1162.3" y="2346">800</text>
<text class="an" x="1265.7" y="2346">1000</text>
<text class="an" x="1369" y="2346">1200</text>
</g>
</svg>
